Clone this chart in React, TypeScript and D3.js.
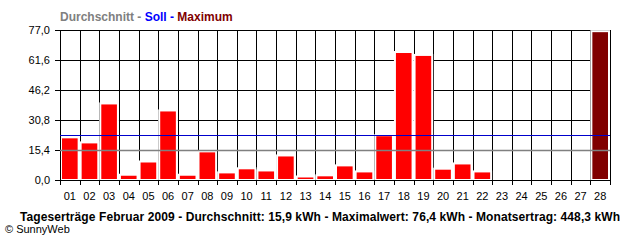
import React from "react";
import * as d3 from "d3";

const days = ["01","02","03","04","05","06","07","08","09","10","11","12","13","14","15","16","17","18","19","20","21","22","23","24","25","26","27","28"];
const values = [21.9,19.3,39.3,2.7,9.5,35.7,2.7,14.7,3.9,6.0,4.9,12.6,1.8,2.4,7.5,4.4,23.0,65.7,64.2,5.8,8.5,4.4,0,0,0,0,0,76.4];
const yTicks = [0, 15.4, 30.8, 46.2, 61.6, 77.0];
const average = 15.9;
const target = 23.1;
const maxValue = 76.4;
const title = "Tageserträge Februar 2009 - Durchschnitt: 15,9 kWh - Maximalwert: 76,4 kWh - Monatsertrag: 448,3 kWh";

const W = 640, H = 240;
const left = 60, right = 610, top = 30, bottom = 180;

export default function App() {
  const x = d3.scaleBand<string>().domain(days).range([left, right]).padding(0);
  const y = d3.scaleLinear().domain([0, 77]).range([bottom, top]);
  const bw = x.bandwidth();
  const fmt = (v: number) => v.toFixed(1).replace(".", ",");
  const font = "'Liberation Sans', Arial, sans-serif";
  const maxIdx = values.indexOf(maxValue);
  return (
    <div style={{ position: "absolute", left: 0, top: 0 }}>
      <svg width={W} height={H} style={{ display: "block", background: "#fff" }} fontFamily={font}>
        <rect x={0} y={0} width={W} height={H} fill="#fff" />
        {yTicks.map((t) => (
          <g key={"h" + t}>
            <line x1={left - 5} x2={right} y1={Math.round(y(t)) + 0.5} y2={Math.round(y(t)) + 0.5} stroke="#000" strokeWidth={1} />
            <text x={50} y={Math.round(y(t)) + 4} fontSize={11} textAnchor="end" fill="#000">{fmt(t)}</text>
          </g>
        ))}
        {d3.range(days.length + 1).map((i) => {
          const xx = Math.round(left + i * bw) + 0.5;
          return <line key={"v" + i} x1={xx} x2={xx} y1={top} y2={bottom + 5} stroke="#000" strokeWidth={1} />;
        })}
        {days.map((d, i) => {
          const v = values[i];
          if (v <= 0) return null;
          const x0 = x(d)!;
          return (
            <rect key={"b" + d} x={x0 + 1} y={y(v)} width={bw - 2} height={bottom - y(v)}
              fill={i === maxIdx ? "#800000" : "#ff0000"} stroke="#fff" strokeWidth={2} />
          );
        })}
        <line x1={left - 5} x2={right} y1={bottom + 0.5} y2={bottom + 0.5} stroke="#000" strokeWidth={1} />
        <line x1={left + 0.5} x2={left + 0.5} y1={top} y2={bottom + 5} stroke="#000" strokeWidth={1} />
        <line x1={left} x2={right} y1={Math.round(y(target)) + 0.5} y2={Math.round(y(target)) + 0.5} stroke="#0000cc" strokeWidth={1} />
        <line x1={left} x2={right} y1={Math.ceil(y(average)) + 0.5} y2={Math.ceil(y(average)) + 0.5} stroke="#808080" strokeWidth={1.5} />
        {days.map((d) => (
          <text key={"l" + d} x={x(d)! + bw / 2} y={200} fontSize={11} textAnchor="middle" fill="#000">{d}</text>
        ))}
        <text x={60} y={21} fontSize={12} fontWeight="bold">
          <tspan fill="#808080">Durchschnitt - </tspan>
          <tspan fill="#0000ff">Soll - </tspan>
          <tspan fill="#800000">Maximum</tspan>
        </text>
        <text x={20} y={221} fontSize={12} fontWeight="bold" fill="#000" textLength={600} lengthAdjust="spacing">{title}</text>
        <text x={5} y={233} fontSize={11} fill="#000">© SunnyWeb</text>
      </svg>
    </div>
  );
}
